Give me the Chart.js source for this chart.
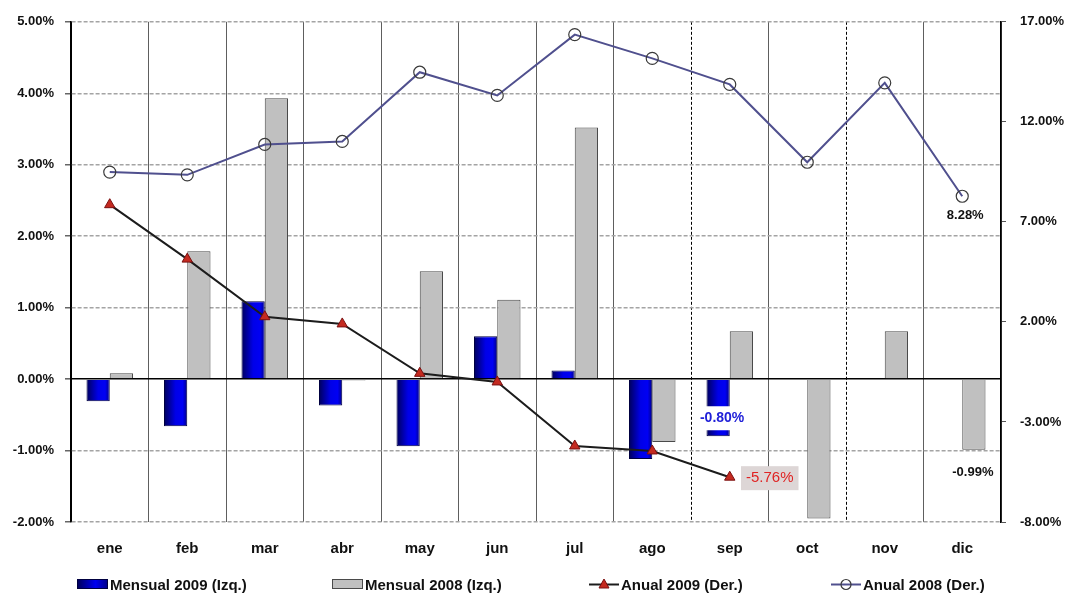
<!DOCTYPE html>
<html>
<head>
<meta charset="utf-8">
<script src="https://cdn.jsdelivr.net/npm/chart.js@4/dist/chart.umd.min.js"></script>
<style>
  html, body { margin: 0; padding: 0; background: #fff; }
  #wrap { position: relative; width: 1071px; height: 602px; }
  #leyenda { position: absolute; left: 0; top: 574px; width: 1071px; height: 20px;
             font: bold 15px "Liberation Sans", Arial, sans-serif; color: #111; }
  .item { position: absolute; top: 0; height: 20px; display: flex; align-items: center; white-space: nowrap; }
  .item svg { margin-right: 2px; }
</style>
</head>
<body>
<div id="wrap">
  <canvas id="grafico" width="1071" height="602"></canvas>
  <div id="leyenda"></div>
</div>
<script>
const meses = ['ene', 'feb', 'mar', 'abr', 'may', 'jun', 'jul', 'ago', 'sep', 'oct', 'nov', 'dic'];

// variacion mensual (eje izquierdo)
const mensual2009 = [-0.31, -0.66, 1.09, -0.37, -0.94, 0.60, 0.12, -1.12, -0.80, null, null, null];
const mensual2008 = [0.08, 1.79, 3.93, -0.02, 1.51, 1.11, 3.52, -0.88, 0.67, -1.95, 0.67, -0.99];

// variacion anual (eje derecho)
const anual2009 = [7.86, 5.14, 2.26, 1.90, -0.57, -1.00, -4.20, -4.45, -5.76, null, null, null];
const anual2008 = [9.49, 9.35, 10.87, 11.02, 14.48, 13.32, 16.36, 15.17, 13.87, 9.98, 13.95, 8.28];

const ticksIzq = [-2, -1, 0, 1, 2, 3, 4, 5];
const ticksDer = [-8, -3, 2, 7, 12, 17];

const fuente = '"Liberation Sans", Arial, sans-serif';
const pct = v => v.toFixed(2) + '%';

// lineas verticales punteadas (ago|sep y oct|nov)
const divisiones = [8, 10];

// relleno de las barras azules, oscuro en los bordes
function rellenoAzul(ctx) {
  const chart = ctx.chart;
  const x = chart.scales.x;
  if (ctx.type !== 'data' || !x || !(x.width > 0)) return '#0000d0';
  const c = x.getPixelForValue(ctx.dataIndex);
  const w = x.width / meses.length * 0.6 / 2;
  const g = chart.ctx.createLinearGradient(c - w, 0, c, 0);
  g.addColorStop(0, '#00005c');
  g.addColorStop(0.5, '#0000e8');
  g.addColorStop(0.8, '#0000f4');
  g.addColorStop(1, '#00008a');
  return g;
}

// etiquetas de valor sobre algunos puntos
const etiquetas = [
  { ds: 0, i: 8, color: '#2020d8', fondo: '#ffffff', fuente: 'bold 14px', dx: 4, dy: -18 },
  { ds: 1, i: 11, color: '#111111', fondo: null, fuente: 'bold 13px', dx: -1, dy: 23 },
  { ds: 2, i: 8, color: '#e02424', fondo: '#ddd6d6', fuente: '15px', dx: 40, dy: 1 },
  { ds: 3, i: 11, color: '#111111', fondo: null, fuente: 'bold 13px', dx: 3, dy: 19 }
];

const valores = [mensual2009, mensual2008, anual2009, anual2008];

const pluginEtiquetas = {
  id: 'etiquetas',
  afterDatasetsDraw(chart) {
    const ctx = chart.ctx;
    ctx.save();
    ctx.textAlign = 'center';
    ctx.textBaseline = 'middle';
    etiquetas.forEach(e => {
      const el = chart.getDatasetMeta(e.ds).data[e.i];
      const txt = pct(valores[e.ds][e.i]);
      ctx.font = e.fuente + ' ' + fuente;
      const x = el.x + e.dx, y = el.y + e.dy;
      const w = ctx.measureText(txt).width;
      if (e.fondo) {
        ctx.fillStyle = e.fondo;
        ctx.fillRect(x - w / 2 - 5, y - 12, w + 10, 24);
      }
      ctx.fillStyle = e.color;
      ctx.fillText(txt, x, y);
    });
    ctx.restore();
  }
};

new Chart(document.getElementById('grafico'), {
  data: {
    labels: meses,
    datasets: [
      {
        type: 'bar', label: 'Mensual 2009 (Izq.)', data: mensual2009, yAxisID: 'y', order: 2,
        backgroundColor: rellenoAzul, borderColor: '#000040', borderWidth: 1,
        categoryPercentage: 0.6, barPercentage: 1
      },
      {
        type: 'bar', label: 'Mensual 2008 (Izq.)', data: mensual2008, yAxisID: 'y', order: 2,
        backgroundColor: '#c0c0c0', borderColor: '#4a4a4a', borderWidth: 1,
        categoryPercentage: 0.6, barPercentage: 1
      },
      {
        type: 'line', label: 'Anual 2009 (Der.)', data: anual2009, yAxisID: 'y1', order: 1,
        borderColor: '#1c1c1c', borderWidth: 2, tension: 0,
        pointStyle: 'triangle', pointRadius: 6, pointBackgroundColor: '#c42a20',
        pointBorderColor: '#7a1010', pointBorderWidth: 1
      },
      {
        type: 'line', label: 'Anual 2008 (Der.)', data: anual2008, yAxisID: 'y1', order: 1,
        borderColor: '#50508e', borderWidth: 2, tension: 0,
        pointStyle: 'circle', pointRadius: 6, pointBackgroundColor: 'rgba(255,255,255,0)',
        pointBorderColor: '#3a3a3a', pointBorderWidth: 1.2
      }
    ]
  },
  options: {
    responsive: false,
    animation: false,
    devicePixelRatio: 1,
    layout: { padding: { top: 16, left: 0, right: 0, bottom: 0 } },
    plugins: { legend: { display: false }, tooltip: { enabled: false } },
    scales: {
      x: {
        offset: true,
        grid: {
          offset: true, drawTicks: false, lineWidth: 1,
          color: c => (c.index === 0 || c.index === 12 || divisiones.includes(c.index)) ? '#000' : '#5e5e5e'
        },
        border: { display: false, dash: c => divisiones.includes(c.index) ? [3, 2] : [] },
        ticks: { padding: 18, color: '#111', font: { family: fuente, size: 15, weight: 'bold' } },
        afterFit: s => { s.height = 80; }
      },
      y: {
        position: 'left', min: -2, max: 5,
        afterBuildTicks: s => { s.ticks = ticksIzq.map(v => ({ value: v })); },
        grid: {
          lineWidth: c => (c.tick && c.tick.value === 0) ? 1.6 : 1.5,
          color: c => (c.tick && c.tick.value === 0) ? '#000' : '#a4a4a4',
          tickColor: '#666', tickLength: 6
        },
        border: { color: '#000', width: 1.6, dash: c => (c.tick && c.tick.value === 0) ? [] : [4, 2] },
        ticks: { padding: 11, color: '#111', callback: v => pct(v), font: { family: fuente, size: 13, weight: 'bold' } },
        afterFit: s => { s.width = 71; }
      },
      y1: {
        position: 'right', min: -8, max: 17,
        afterBuildTicks: s => { s.ticks = ticksDer.map(v => ({ value: v })); },
        grid: { drawOnChartArea: false, tickColor: '#555', tickLength: 5 },
        border: { color: '#000', width: 1.6 },
        ticks: { padding: 14, color: '#111', callback: v => pct(v), font: { family: fuente, size: 13, weight: 'bold' } },
        afterFit: s => { s.width = 70; }
      }
    }
  },
  plugins: [pluginEtiquetas]
});

// leyenda
const itemsLeyenda = [
  { x: 77, texto: 'Mensual 2009 (Izq.)',
    svg: '<svg width="31" height="12"><defs><linearGradient id="ga"><stop offset="0" stop-color="#00005c"/><stop offset="0.6" stop-color="#0000f0"/><stop offset="1" stop-color="#00008a"/></linearGradient></defs><rect x="0.5" y="1.5" width="30" height="9" fill="url(#ga)" stroke="#000040"/></svg>' },
  { x: 332, texto: 'Mensual 2008 (Izq.)',
    svg: '<svg width="31" height="12"><rect x="0.5" y="1.5" width="30" height="9" fill="#c0c0c0" stroke="#4a4a4a"/></svg>' },
  { x: 589, texto: 'Anual 2009 (Der.)',
    svg: '<svg width="30" height="14"><line x1="0" y1="7.5" x2="30" y2="7.5" stroke="#1c1c1c" stroke-width="2"/><path d="M15 2 L20 11 L10 11 Z" fill="#c42a20" stroke="#7a1010"/></svg>' },
  { x: 831, texto: 'Anual 2008 (Der.)',
    svg: '<svg width="30" height="14"><line x1="0" y1="7.5" x2="30" y2="7.5" stroke="#50508e" stroke-width="2"/><circle cx="15" cy="7.5" r="5" fill="none" stroke="#3a3a3a" stroke-width="1.2"/></svg>' }
];
const leyenda = document.getElementById('leyenda');
itemsLeyenda.forEach(it => {
  const d = document.createElement('div');
  d.className = 'item';
  d.style.left = it.x + 'px';
  d.innerHTML = it.svg + '<span>' + it.texto + '</span>';
  leyenda.appendChild(d);
});
</script>
</body>
</html>
